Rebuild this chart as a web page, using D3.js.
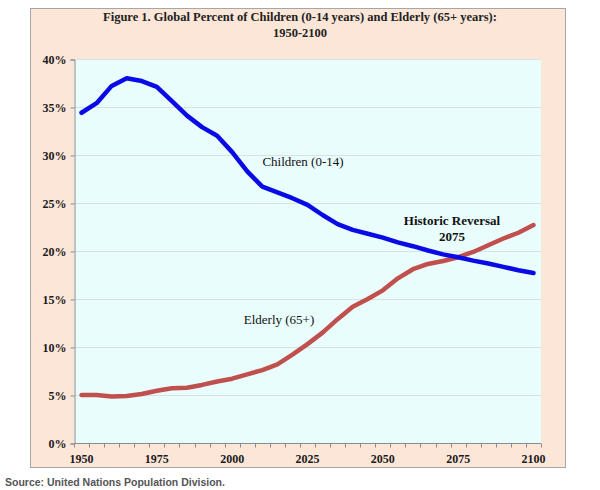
<!DOCTYPE html>
<html>
<head>
<meta charset="utf-8">
<script src="https://cdn.jsdelivr.net/npm/d3@7/dist/d3.min.js"></script>
<style>
  html, body { margin: 0; padding: 0; background: #ffffff; }
  svg { display: block; }
</style>
</head>
<body>
<svg id="chart" width="600" height="490"></svg>
<script>
const years = d3.range(1950, 2101, 5);
const children = [34.4, 35.4, 37.2, 38.0, 37.7, 37.1, 35.6, 34.1, 32.9, 32.0,
                  30.3, 28.3, 26.7, 26.1, 25.5, 24.8, 23.75, 22.8, 22.2, 21.8,
                  21.4, 20.9, 20.5, 20.05, 19.65, 19.35, 19.0, 18.7, 18.35, 18.0, 17.7];
const elderly = [5.0, 5.0, 4.85, 4.9, 5.1, 5.45, 5.7, 5.75, 6.05, 6.4,
                 6.7, 7.15, 7.6, 8.2, 9.2, 10.3, 11.5, 12.9, 14.2, 15.0,
                 15.9, 17.15, 18.1, 18.65, 18.96, 19.35, 19.9, 20.6, 21.3, 21.9, 22.7];
const yTicks = [0, 5, 10, 15, 20, 25, 30, 35, 40];
const xLabels = [1950, 1975, 2000, 2025, 2050, 2075, 2100];
const titleLines = ["Figure 1. Global Percent of Children (0-14 years) and Elderly (65+ years):", "1950-2100"];

const svg = d3.select("#chart");
const plot = { left: 74, right: 541, top: 59, bottom: 443 };

// outer panel
svg.append("rect").attr("x", 30.5).attr("y", 8.5).attr("width", 535).attr("height", 459)
  .attr("fill", "#fce6d8").attr("stroke", "#a6a6a6").attr("stroke-width", 1);

// plot background
svg.append("rect").attr("x", plot.left).attr("y", plot.top)
  .attr("width", plot.right - plot.left).attr("height", plot.bottom - plot.top)
  .attr("fill", "#e9fdfd");

const x = d3.scaleBand().domain(years).range([plot.left, plot.right]).paddingInner(0).paddingOuter(0);
const y = d3.scaleLinear().domain([0, 40]).range([plot.bottom, plot.top]);
const cx = d => x(d) + x.bandwidth() / 2;

// gridlines
svg.append("g").selectAll("line").data(yTicks.filter(t => t > 0)).join("line")
  .attr("x1", plot.left).attr("x2", plot.right)
  .attr("y1", d => Math.round(y(d)) + 0.5).attr("y2", d => Math.round(y(d)) + 0.5)
  .attr("stroke", "#d8e2e2").attr("stroke-width", 1);

// y axis
const yAxis = d3.axisLeft(y).tickValues(yTicks).tickFormat(d => d + "%").tickSize(4).tickPadding(4);
const gy = svg.append("g").attr("transform", `translate(${plot.left + 0.5},0.5)`).call(yAxis);
gy.select(".domain").attr("stroke", "#8c8c8c");
gy.selectAll(".tick line").attr("stroke", "#8c8c8c");
gy.selectAll(".tick text").attr("font-family", "'Liberation Serif', 'Times New Roman', serif")
  .attr("font-size", "12px").attr("font-weight", "bold").attr("fill", "#1a1a1a");

// x axis: ticks between categories
const gx = svg.append("g").attr("transform", `translate(0,${plot.bottom + 0.5})`);
gx.append("line").attr("x1", plot.left).attr("x2", plot.right).attr("y1", 0).attr("y2", 0)
  .attr("stroke", "#8c8c8c");
const boundaries = years.map(d => x(d)).concat([plot.right]);
gx.selectAll("line.tk").data(boundaries).join("line").attr("class", "tk")
  .attr("x1", d => Math.round(d) + 0.5).attr("x2", d => Math.round(d) + 0.5)
  .attr("y1", 0).attr("y2", 4).attr("stroke", "#8c8c8c");
gx.selectAll("text").data(xLabels).join("text")
  .attr("x", d => cx(d)).attr("y", 19).attr("text-anchor", "middle")
  .attr("font-family", "'Liberation Serif', 'Times New Roman', serif")
  .attr("font-size", "12px").attr("font-weight", "bold").attr("fill", "#1a1a1a")
  .text(d => d);

// lines
const line = d3.line().x((d, i) => cx(years[i])).y(d => y(d));
svg.append("path").datum(elderly).attr("d", line).attr("fill", "none")
  .attr("stroke", "#c0504d").attr("stroke-width", 4.5).attr("stroke-linejoin", "round").attr("stroke-linecap", "round");
svg.append("path").datum(children).attr("d", line).attr("fill", "none")
  .attr("stroke", "#0a0ae6").attr("stroke-width", 4.5).attr("stroke-linejoin", "round").attr("stroke-linecap", "round");

// title
svg.append("g").selectAll("text").data(titleLines).join("text")
  .attr("x", 300).attr("y", (d, i) => 21 + i * 16).attr("text-anchor", "middle")
  .attr("font-family", "'Liberation Serif', 'Times New Roman', serif")
  .attr("font-size", "12.5px").attr("font-weight", "bold").attr("fill", "#222222")
  .text(d => d);

// annotations
const ann = svg.append("g").attr("font-family", "'Liberation Serif', 'Times New Roman', serif")
  .attr("font-size", "13px").attr("fill", "#111111").attr("text-anchor", "middle");
ann.append("text").attr("x", 303).attr("y", 166).text("Children (0-14)");
ann.append("text").attr("x", 279).attr("y", 324).text("Elderly (65+)");
ann.append("text").attr("x", 452).attr("y", 225).attr("font-weight", "bold").text("Historic Reversal");
ann.append("text").attr("x", 452).attr("y", 241).attr("font-weight", "bold").text("2075");

// source
svg.append("text").attr("x", 5).attr("y", 486)
  .attr("font-family", "'Liberation Sans', Arial, sans-serif")
  .attr("font-size", "10.5px").attr("font-weight", "bold").attr("fill", "#555555")
  .text("Source: United Nations Population Division.");
</script>
</body>
</html>
